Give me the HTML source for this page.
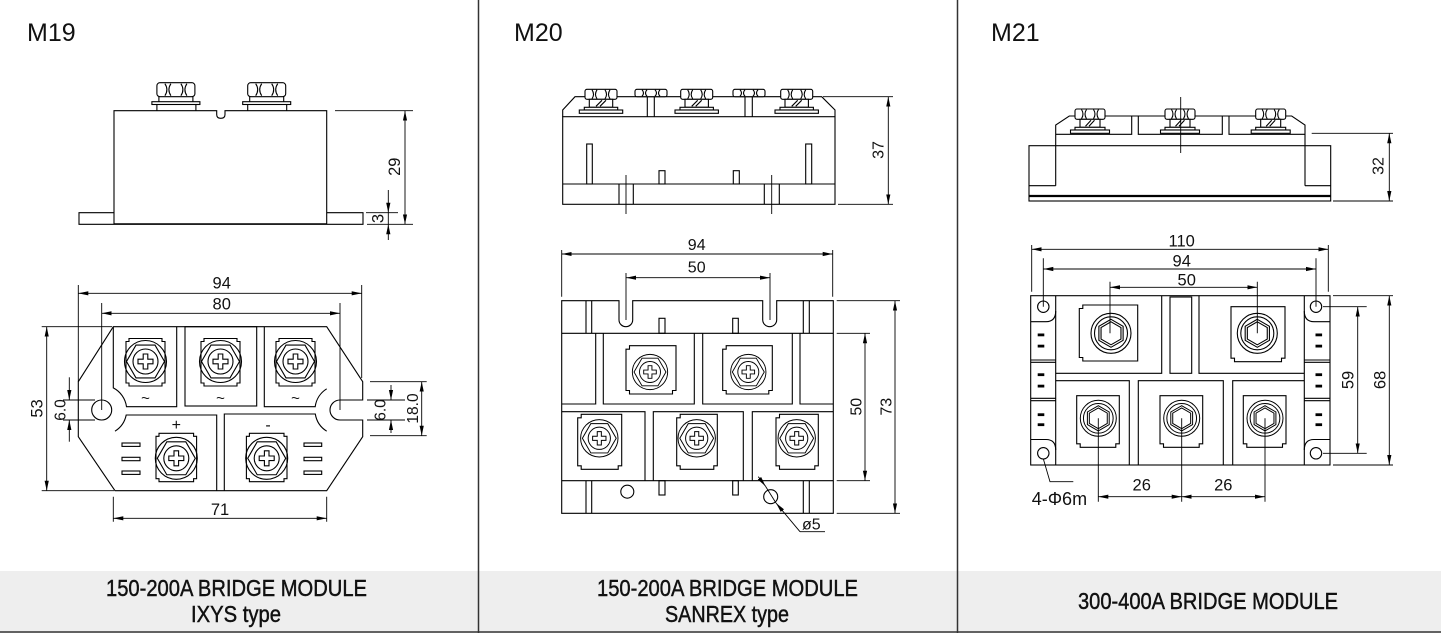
<!DOCTYPE html>
<html>
<head>
<meta charset="utf-8">
<style>
html,body{margin:0;padding:0;background:#fff;}
svg{display:block;}
svg text{font-family:"Liberation Sans",Arial,sans-serif;fill:#111;}
.s{fill:none;stroke:#000;stroke-width:1.1;}
.t{stroke-width:0.9;}
.f{fill:#000;stroke:none;}
.ft{stroke:#111;stroke-width:0.45;}
</style>
</head>
<body>
<svg xmlns="http://www.w3.org/2000/svg" width="1441" height="633" viewBox="0 0 1441 633">
<defs>
<marker id="ar" markerUnits="userSpaceOnUse" markerWidth="10" markerHeight="6" viewBox="0 0 10 6" refX="10" refY="3" orient="auto-start-reverse"><path d="M0,0.9 L10,3 L0,5.1 Z" fill="#000"/></marker>
<g id="sA">
<circle r="21"/>
<polygon points="19,0 9.5,16.45 -9.5,16.45 -19,0 -9.5,-16.45 9.5,-16.45"/>
<circle r="12.5"/>
<path d="M-2.3,-7.5 H2.3 V-2.3 H7.5 V2.3 H2.3 V7.5 H-2.3 V2.3 H-7.5 V-2.3 H-2.3 Z"/>
</g>
<g id="sB">
<circle r="20"/>
<circle r="16.5"/>
<polygon points="0,-14 12.12,-7 12.12,7 0,14 -12.12,7 -12.12,-7"/>
<polygon points="0,-11.5 9.96,-5.75 9.96,5.75 0,11.5 -9.96,5.75 -9.96,-5.75"/>
</g>
<g id="nut19">
<rect x="-19" y="0" width="38" height="14" rx="3" fill="#fff"/>
<path d="M-11,1 Q-7,7 -11,13 M-5,1 Q-9,7 -5,13 M5,1 Q9,7 5,13 M11,1 Q7,7 11,13"/>
<path d="M-17,14 V19 M17,14 V19"/>
<rect x="-24" y="19" width="48" height="2.8"/>
<path d="M-19,21.8 V28 M20,21.8 V28"/>
</g>
<g id="nut20">
<rect x="-16" y="0" width="32" height="10" rx="2" fill="#fff"/>
<path d="M-9,0.5 Q-6,5 -9,9.5 M-4,0.5 Q-7,5 -4,9.5 M4,0.5 Q7,5 4,9.5 M9,0.5 Q6,5 9,9.5"/>
<rect x="-11.7" y="10" width="23.4" height="8" fill="#fff"/>
<path d="M-5,17 L1,11 M-1,17 L5,11"/>
<rect x="-16.7" y="18" width="33.4" height="2.7" fill="#fff"/>
<rect x="-21.7" y="20.7" width="43.4" height="3.3" fill="#fff"/>
</g>
<g id="nut20s">
<rect x="-16" y="0" width="32" height="7.4" rx="2" fill="#fff"/>
<path d="M-9,0.5 Q-6,3.7 -9,7 M-4,0.5 Q-7,3.7 -4,7 M4,0.5 Q7,3.7 4,7 M9,0.5 Q6,3.7 9,7"/>
</g>
<g id="nut21">
<rect x="-15" y="0" width="30" height="10.3" rx="2" fill="#fff"/>
<path d="M-8.5,0.5 Q-5.5,5 -8.5,9.8 M-3.5,0.5 Q-6.5,5 -3.5,9.8 M3.5,0.5 Q6.5,5 3.5,9.8 M8.5,0.5 Q5.5,5 8.5,9.8"/>
<rect x="-10" y="10.3" width="20" height="8" fill="#fff"/>
<path d="M-4.5,17.3 L1,11.3 M-1,17.3 L4.5,11.3"/>
<rect x="-15" y="18.3" width="30" height="2.7" fill="#fff"/>
<rect x="-19.5" y="21" width="39" height="3.3" fill="#fff"/>
</g>
</defs>

<!-- background / frame -->
<rect x="0" y="0" width="1441" height="633" fill="#fff"/>
<rect x="0" y="571" width="1441" height="62" fill="#eeeeee"/>
<line x1="0" y1="632" x2="1441" y2="632" stroke="#333" stroke-width="1.6"/>
<line x1="478.5" y1="0" x2="478.5" y2="633" stroke="#333" stroke-width="1.5"/>
<line x1="957.5" y1="0" x2="957.5" y2="633" stroke="#333" stroke-width="1.5"/>

<!-- headers -->
<text x="27" y="41" font-size="25">M19</text>
<text x="514" y="41" font-size="25">M20</text>
<text x="991" y="41" font-size="25">M21</text>

<!-- footers -->
<text class="ft" x="106" y="596" font-size="23" textLength="261" lengthAdjust="spacingAndGlyphs">150-200A BRIDGE MODULE</text>
<text class="ft" x="191" y="622" font-size="23" textLength="90" lengthAdjust="spacingAndGlyphs">IXYS type</text>
<text class="ft" x="597" y="596" font-size="23" textLength="261" lengthAdjust="spacingAndGlyphs">150-200A BRIDGE MODULE</text>
<text class="ft" x="665" y="622" font-size="23" textLength="124" lengthAdjust="spacingAndGlyphs">SANREX type</text>
<text class="ft" x="1078" y="609" font-size="23" textLength="260" lengthAdjust="spacingAndGlyphs">300-400A BRIDGE MODULE</text>

<!-- ================= M19 side view ================= -->
<g class="s">
<path d="M114,223.8 V110.7 H216.7 V114.5 Q216.7,118.3 220.8,118.3 Q225,118.3 225,114.5 V110.7 H326.7 V223.8 Z"/>
<path d="M114,212.7 H79 V224.3 H363 V212.7 H326.7"/>
<use href="#nut19" x="175.9" y="82.7"/>
<use href="#nut19" x="266.7" y="82.7"/>
</g>
<g class="s t">
<path d="M335,110.7 H413 M367,224.3 H413 M366,212.7 H398"/>
<line x1="405" y1="110.7" x2="405" y2="224.3" marker-start="url(#ar)" marker-end="url(#ar)"/>
<line x1="388.3" y1="190" x2="388.3" y2="212.7" marker-end="url(#ar)"/>
<line x1="388.3" y1="240" x2="388.3" y2="224.3" marker-end="url(#ar)"/>
<line x1="388.3" y1="212.7" x2="388.3" y2="224.3"/>
</g>
<text transform="translate(400,166.7) rotate(-90)" text-anchor="middle" font-size="16.5">29</text>
<text transform="translate(383.5,218.5) rotate(-90)" text-anchor="middle" font-size="16.5">3</text>

<!-- ================= M19 top view ================= -->
<g class="s">
<path d="M113.3,326.7 H326.7 L362.7,381.7 V400 H340 A10,10 0 0 0 340,420 H362.7 V436.7 L326.7,490.7 H115 L78.3,436.7 V381.7 Z"/>
<circle cx="101.7" cy="410" r="10"/>
<path d="M113.3,326.7 V387.9 A25,25 0 0 1 126.5,406.7 H176.7 V326.7"/>
<path d="M216.7,490.7 V415 H126.2 A25,25 0 0 1 115,431.2"/>
<rect x="185" y="326.7" width="71.7" height="79.3"/>
<path d="M264.3,326.7 V406.7 H315.2 A25,25 0 0 1 326.7,388.8"/>
<path d="M224.3,490.7 V414 H315.3 A25,25 0 0 0 326.7,431.2"/>
<path d="M129,338.5 H162 V341.5 H165 V383 H162 V386 H129 V383 H126 V341.5 H129 Z"/>
<path d="M204,338.5 H237 V341.5 H240 V383 H237 V386 H204 V383 H201 V341.5 H204 Z"/>
<path d="M279,338.5 H312 V341.5 H315 V383 H312 V386 H279 V383 H276 V341.5 H279 Z"/>
<use href="#sA" x="145.5" y="361.5"/>
<use href="#sA" x="220.5" y="361.5"/>
<use href="#sA" x="295.5" y="361.5"/>
<path d="M159,433.3 H193.6 V436.3 H196.6 V478.7 H193.6 V481.7 H159 V478.7 H156 V436.3 H159 Z"/>
<path d="M249.4,433.3 H284 V436.3 H287 V478.7 H284 V481.7 H249.4 V478.7 H246.4 V436.3 H249.4 Z"/>
<use href="#sA" x="176.3" y="458.3"/>
<use href="#sA" x="266.7" y="458.3"/>
<rect x="122" y="443" width="18" height="3.4"/>
<rect x="122" y="457.3" width="18" height="3.4"/>
<rect x="122" y="471" width="18" height="3.4"/>
<rect x="304" y="443" width="17.7" height="3.4"/>
<rect x="304" y="457.3" width="17.7" height="3.4"/>
<rect x="304" y="471" width="17.7" height="3.4"/>
</g>
<text x="145.5" y="403" font-size="15" text-anchor="middle">~</text>
<text x="220.5" y="403" font-size="15" text-anchor="middle">~</text>
<text x="295.5" y="403" font-size="15" text-anchor="middle">~</text>
<text x="176.3" y="430" font-size="16" text-anchor="middle">+</text>
<text x="268" y="430" font-size="16" text-anchor="middle">-</text>
<g class="s t">
<path d="M78.3,285 V381.7 M361.7,285 V378 M101.7,303 V410 M340,303 V410"/>
<line x1="78.3" y1="293.3" x2="361.7" y2="293.3" marker-start="url(#ar)" marker-end="url(#ar)"/>
<line x1="101.7" y1="313.3" x2="340" y2="313.3" marker-start="url(#ar)" marker-end="url(#ar)"/>
<path d="M41.7,326.7 H112 M41.7,490.7 H114"/>
<line x1="46.7" y1="326.7" x2="46.7" y2="490.7" marker-start="url(#ar)" marker-end="url(#ar)"/>
<path d="M63,400 H95 M63,420 H95"/>
<line x1="69.3" y1="377.3" x2="69.3" y2="400" marker-end="url(#ar)"/>
<line x1="69.3" y1="441.7" x2="69.3" y2="420" marker-end="url(#ar)"/>
<path d="M370,381.7 H426.7 M367,400 H405 M367,420 H405 M370,435.7 H426.7"/>
<line x1="391" y1="385" x2="391" y2="400" marker-end="url(#ar)"/>
<line x1="391" y1="433" x2="391" y2="420" marker-end="url(#ar)"/>
<line x1="421.7" y1="381.7" x2="421.7" y2="435.7" marker-start="url(#ar)" marker-end="url(#ar)"/>
<path d="M113.3,496.7 V521.7 M326.7,496.7 V521.7"/>
<line x1="113.3" y1="518.3" x2="326.7" y2="518.3" marker-start="url(#ar)" marker-end="url(#ar)"/>
</g>
<text x="221.7" y="288.5" font-size="16.5" text-anchor="middle">94</text>
<text x="221.7" y="309.3" font-size="16.5" text-anchor="middle">80</text>
<text x="220" y="515" font-size="16.5" text-anchor="middle">71</text>
<text transform="translate(42.5,408.5) rotate(-90)" text-anchor="middle" font-size="16.5">53</text>
<text transform="translate(65.5,410) rotate(-90)" text-anchor="middle" font-size="15.5">6.0</text>
<text transform="translate(385.5,410) rotate(-90)" text-anchor="middle" font-size="15.5">6.0</text>
<text transform="translate(418,408.5) rotate(-90)" text-anchor="middle" font-size="15.5">18.0</text>

<!-- ================= M20 side view ================= -->
<g class="s">
<path d="M562.7,116.7 V110 L575,96.7 H821.7 L835,110 V116.7"/>
<rect x="562.7" y="116.7" width="272.3" height="87.6"/>
<path d="M562.7,184 H835"/>
<path d="M647.3,96.7 V116.7 M654.3,96.7 V116.7 M745,96.7 V116.7 M752.3,96.7 V116.7"/>
<rect x="586.7" y="144" width="5.6" height="40"/>
<rect x="805.7" y="144" width="6" height="40"/>
<rect x="659" y="170.7" width="6" height="13.3"/>
<rect x="733.3" y="170.7" width="6" height="13.3"/>
<path d="M619,184 V204.3 M633.3,184 V204.3 M764.3,184 V204.3 M779.3,184 V204.3"/>
<use href="#nut20" x="601" y="89.3"/>
<use href="#nut20" x="696.7" y="89.3"/>
<use href="#nut20" x="796.7" y="89.3"/>
<use href="#nut20s" x="651" y="89.3"/>
<use href="#nut20s" x="749" y="89.3"/>
</g>
<g class="s t">
<path d="M626,175 V214 M771.7,175 V214"/>
<path d="M823,96.7 H893 M838,204.3 H893"/>
<line x1="888.3" y1="96.7" x2="888.3" y2="204.3" marker-start="url(#ar)" marker-end="url(#ar)"/>
</g>
<text transform="translate(883.5,150) rotate(-90)" text-anchor="middle" font-size="16">37</text>

<!-- ================= M20 top view ================= -->
<g class="s">
<path d="M561.7,300.7 H619 V319.85 A6.85,6.85 0 0 0 632.7,319.85 V300.7 H762.7 V319.7 A7,7 0 0 0 776.7,319.7 V300.7 H833.3 V513.3 H561.7 Z"/>
<path d="M561.7,333.3 H833.3 M561.7,480.7 H833.3"/>
<path d="M586,300.7 V333.3 M591.7,300.7 V333.3 M803.3,300.7 V333.3 M809.3,300.7 V333.3"/>
<path d="M586,480.7 V513.3 M591.7,480.7 V513.3 M803.3,480.7 V513.3 M809.3,480.7 V513.3"/>
<rect x="659" y="318.3" width="6" height="15"/>
<rect x="732.7" y="318.3" width="5.6" height="15"/>
<rect x="659" y="480.7" width="6" height="14.3"/>
<rect x="732.7" y="480.7" width="5.6" height="14.3"/>
<path d="M561.7,404 H595.7 V333.3 M603.3,333.3 V404 H694.3 V333.3 M702.7,333.3 V404 H792.3 V333.3 M800,333.3 V404 H833.3"/>
<path d="M561.7,411.7 H645 V480.7 M653.3,480.7 V411.7 H743.3 V480.7 M752.3,480.7 V411.7 H833.3"/>
<path d="M629.5,345.7 H676 V390.5 H672.5 V394 H629.5 V390.5 H626 V349.2 H629.5 Z"/>
<path d="M726.2,345.7 H772.3 V390.5 H768.8 V394 H726.2 V390.5 H722.7 V349.2 H726.2 Z"/>
<path d="M581.2,414.3 H621.7 V465.8 H618.2 V469.3 H581.2 V465.8 H577.7 V417.8 H581.2 Z"/>
<path d="M680.2,414.3 H717.3 V465.8 H713.8 V469.3 H680.2 V465.8 H676.7 V417.8 H680.2 Z"/>
<path d="M779.5,414.3 H818.3 V465.8 H814.8 V469.3 H779.5 V465.8 H776 V417.8 H779.5 Z"/>
<use href="#sA" transform="translate(650,372) scale(0.84)"/>
<use href="#sA" transform="translate(748.3,372) scale(0.84)"/>
<use href="#sA" transform="translate(599.3,438.3) scale(0.89)"/>
<use href="#sA" transform="translate(696.7,438.3) scale(0.89)"/>
<use href="#sA" transform="translate(796.7,438.3) scale(0.89)"/>
<circle cx="627.3" cy="491.7" r="6.5"/>
<circle cx="770.7" cy="496.7" r="7"/>
</g>
<g class="s t">
<path d="M561.7,250 V296.7 M832.7,250 V296.7"/>
<line x1="561.7" y1="254" x2="832.7" y2="254" marker-start="url(#ar)" marker-end="url(#ar)"/>
<path d="M626,273 V320 M770,273 V320"/>
<line x1="626" y1="277.7" x2="770" y2="277.7" marker-start="url(#ar)" marker-end="url(#ar)"/>
<path d="M836.7,333.3 H870 M836.7,480.7 H870"/>
<line x1="865" y1="333.3" x2="865" y2="480.7" marker-start="url(#ar)" marker-end="url(#ar)"/>
<path d="M836.7,300.7 H900 M836.7,513.3 H900"/>
<line x1="895" y1="300.7" x2="895" y2="513.3" marker-start="url(#ar)" marker-end="url(#ar)"/>
<line x1="758.3" y1="476.7" x2="765.5" y2="486.2" marker-end="url(#ar)"/>
<line x1="800" y1="531.7" x2="776" y2="503" marker-end="url(#ar)"/>
<path d="M765.5,486.2 L776,503 M800,531.7 H825"/>
</g>
<text x="696.7" y="250" font-size="16" text-anchor="middle">94</text>
<text x="696.7" y="272.5" font-size="16" text-anchor="middle">50</text>
<text transform="translate(861.5,406.7) rotate(-90)" text-anchor="middle" font-size="16">50</text>
<text transform="translate(891.5,406.7) rotate(-90)" text-anchor="middle" font-size="16">73</text>
<text x="802" y="529.5" font-size="16">ø5</text>

<!-- ================= M21 side view ================= -->
<g class="s">
<rect x="1029" y="145.7" width="301.7" height="55.3"/>
<path d="M1029,185.7 H1055.7 M1305,185.7 H1330.7"/>
<path d="M1055.7,185.7 V125 L1069.3,116 H1291.7 L1305,125 V185.7"/>
<path d="M1055.7,134.3 H1131.7 V116 M1138.3,116 V134.3 H1222.3 V116 M1229,116 V134.3 H1305"/>
<use href="#nut21" x="1090" y="109"/>
<use href="#nut21" x="1180" y="109"/>
<use href="#nut21" x="1270.7" y="109"/>
</g>
<line x1="1029" y1="196" x2="1330.7" y2="196" stroke="#000" stroke-width="2.2"/>
<g class="s t">
<path d="M1180.7,97 V153"/>
<path d="M1311.7,133.3 H1393 M1333,201 H1393"/>
<line x1="1389.3" y1="133.3" x2="1389.3" y2="201" marker-start="url(#ar)" marker-end="url(#ar)"/>
</g>
<text transform="translate(1383.5,166) rotate(-90)" text-anchor="middle" font-size="16">32</text>

<!-- ================= M21 top view ================= -->
<g class="s">
<rect x="1030.7" y="295.7" width="299.3" height="169.3"/>
<path d="M1055.7,295.7 V465 M1304.3,295.7 V465"/>
<path d="M1030.7,321.7 H1046 Q1055.7,321.7 1055.7,311"/>
<path d="M1030.7,439.5 H1046 Q1055.7,439.5 1055.7,450"/>
<path d="M1330,321.7 H1314 Q1304.3,321.7 1304.3,311"/>
<path d="M1330,439.5 H1314 Q1304.3,439.5 1304.3,450"/>
<path d="M1030.7,360 H1055.7 M1030.7,362.3 H1055.7 M1030.7,398.3 H1055.7 M1030.7,400.7 H1055.7"/>
<path d="M1304.3,360 H1330 M1304.3,362.3 H1330 M1304.3,398.3 H1330 M1304.3,400.7 H1330"/>
<circle cx="1043.3" cy="306.7" r="5.7"/>
<circle cx="1043.3" cy="453.3" r="5.7"/>
<circle cx="1316" cy="306.7" r="5.7"/>
<circle cx="1316" cy="453.3" r="5.7"/>
<path d="M1161.7,295.7 V373.3 H1055.7"/>
<path d="M1199,295.7 V373.3 H1304.3"/>
<rect x="1170" y="297" width="21.7" height="76.3"/>
<path d="M1055.7,380.7 H1129.3 V465 M1138.3,465 V380.7 H1223.3 V465 M1232.7,465 V380.7 H1304.3"/>
<path d="M1082.8,305 H1137.7 V361 H1082.8 V357.5 H1079.3 V308.5 H1082.8 Z"/>
<path d="M1231,306.7 H1285 V358.2 H1281.5 V361.7 H1234.5 V358.2 H1231 Z"/>
<path d="M1076.7,395.7 H1119.3 V443.8 H1115.8 V447.3 H1080.2 V443.8 H1076.7 Z"/>
<path d="M1160,395.7 H1202.7 V443.8 H1199.2 V447.3 H1163.5 V443.8 H1160 Z"/>
<path d="M1243.3,395.7 H1286 V443.8 H1282.5 V447.3 H1246.8 V443.8 H1243.3 Z"/>
<use href="#sB" x="1111" y="333.3"/>
<use href="#sB" x="1257.3" y="333.3"/>
<use href="#sB" transform="translate(1098.3,418.3) scale(0.9)"/>
<use href="#sB" transform="translate(1181.7,418.3) scale(0.9)"/>
<use href="#sB" transform="translate(1265,418.3) scale(0.9)"/>
</g>
<g class="f">
<rect x="1037.7" y="333.5" width="6.6" height="2.8"/>
<rect x="1037.7" y="344.7" width="6.6" height="2.8"/>
<rect x="1037.7" y="373.3" width="6.6" height="2.8"/>
<rect x="1037.7" y="384.7" width="6.6" height="2.8"/>
<rect x="1037.7" y="413.3" width="6.6" height="2.8"/>
<rect x="1037.7" y="423.3" width="6.6" height="2.8"/>
<rect x="1315.5" y="333.5" width="6.6" height="2.8"/>
<rect x="1315.5" y="344.7" width="6.6" height="2.8"/>
<rect x="1315.5" y="373.3" width="6.6" height="2.8"/>
<rect x="1315.5" y="384.7" width="6.6" height="2.8"/>
<rect x="1315.5" y="413.3" width="6.6" height="2.8"/>
<rect x="1315.5" y="423.3" width="6.6" height="2.8"/>
</g>
<g class="s t">
<path d="M1031.7,245 V291.7 M1328.3,245 V291.7"/>
<line x1="1031.7" y1="249.3" x2="1328.3" y2="249.3" marker-start="url(#ar)" marker-end="url(#ar)"/>
<path d="M1043.3,258.3 V306.7 M1316,258.3 V306.7"/>
<line x1="1043.3" y1="269" x2="1316" y2="269" marker-start="url(#ar)" marker-end="url(#ar)"/>
<path d="M1110,281.7 V333.3 M1257.3,281.7 V333.3"/>
<line x1="1110" y1="287.3" x2="1257.3" y2="287.3" marker-start="url(#ar)" marker-end="url(#ar)"/>
<path d="M1098.3,418.3 V501.7 M1181.7,418.3 V501.7 M1265,418.3 V501.7"/>
<line x1="1098.3" y1="496.7" x2="1181.7" y2="496.7" marker-start="url(#ar)" marker-end="url(#ar)"/>
<line x1="1181.7" y1="496.7" x2="1265" y2="496.7" marker-start="url(#ar)" marker-end="url(#ar)"/>
<path d="M1323,306.7 H1366.7 M1323,453.3 H1366.7"/>
<line x1="1357.7" y1="306.7" x2="1357.7" y2="453.3" marker-start="url(#ar)" marker-end="url(#ar)"/>
<path d="M1333,295.7 H1393 M1333,465 H1393"/>
<line x1="1389.3" y1="295.7" x2="1389.3" y2="465" marker-start="url(#ar)" marker-end="url(#ar)"/>
<path d="M1043.3,458.7 L1050,481.7 H1073.3"/>
</g>
<text x="1181.7" y="246.5" font-size="16.5" text-anchor="middle">110</text>
<text x="1181.7" y="266.5" font-size="16.5" text-anchor="middle">94</text>
<text x="1186.7" y="285.5" font-size="16.5" text-anchor="middle">50</text>
<text x="1141.7" y="490.5" font-size="16.5" text-anchor="middle">26</text>
<text x="1223.3" y="490.5" font-size="16.5" text-anchor="middle">26</text>
<text transform="translate(1353.5,380) rotate(-90)" text-anchor="middle" font-size="16.5">59</text>
<text transform="translate(1385.5,380) rotate(-90)" text-anchor="middle" font-size="16.5">68</text>
<text x="1031.7" y="505" font-size="18">4-Φ6m</text>
</svg>
</body>
</html>
